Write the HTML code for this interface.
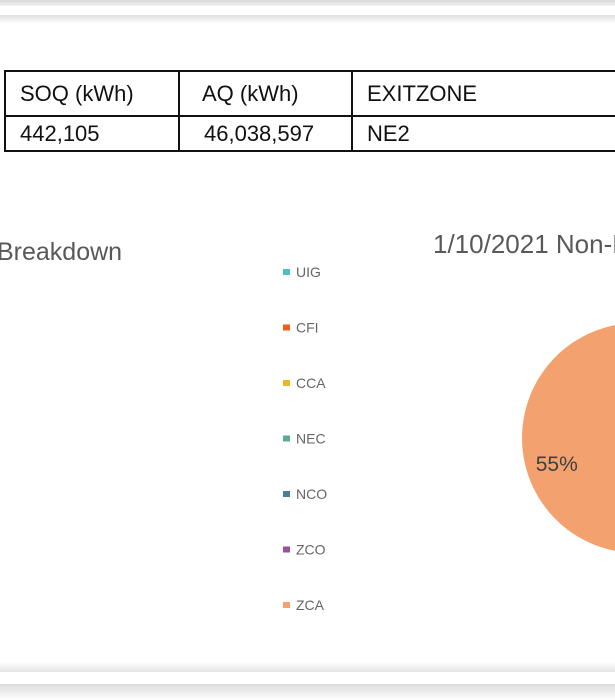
<!DOCTYPE html>
<html><head><meta charset="utf-8"><style>
body{margin:0;width:615px;height:700px;overflow:hidden;background:#fff;position:relative;font-family:"Liberation Sans",sans-serif}
.abs{position:absolute}
table{border-collapse:collapse;position:absolute;left:4px;top:70px;table-layout:fixed;width:640px}
td{border:2px solid #111;font-size:22px;color:#111;padding:0 0 0 14px;vertical-align:middle;overflow:hidden;white-space:nowrap;box-sizing:border-box}
#wrap{position:absolute;left:0;top:0;width:615px;height:700px;overflow:hidden}
</style></head><body>
<div id="wrap">
<div class="abs" style="left:0;top:0;width:615px;height:6px;background:linear-gradient(#d8d8d8,#f2f2f2)"></div>
<div class="abs" style="left:0;top:15px;width:615px;height:9px;background:linear-gradient(#e0e0e0,#fff)"></div>
<table>
<colgroup><col style="width:174px"><col style="width:173px"><col style="width:293px"></colgroup>
<tr><td style="height:45px">SOQ (kWh)</td><td style="padding-left:22px;height:45px">AQ (kWh)</td><td style="height:45px">EXITZONE</td></tr>
<tr><td style="height:35px">442,105</td><td style="padding-left:24px;height:35px">46,038,597</td><td style="height:35px">NE2</td></tr>
</table>
<div class="abs" style="left:-3px;top:238px;font-size:25px;color:#595959">Breakdown</div>
<div class="abs" style="left:433px;top:229px;width:182px;overflow:hidden;font-size:26px;color:#595959;white-space:nowrap">1/10/2021 Non-Daily</div>
<svg class="abs" style="left:0;top:0" width="615" height="700" id="chart"></svg>
<div class="abs" style="left:0;top:662px;width:615px;height:10px;background:linear-gradient(#fff,#e4e4e4)"></div>
<div class="abs" style="left:0;top:684px;width:615px;height:16px;background:linear-gradient(#dcdcdc,#fff)"></div>
</div>
<script>
const categories=["UIG","CFI","CCA","NEC","NCO","ZCO","ZCA"];
const values=[1,2,10,20,8,4,55];
const colors=["#4bbfcb","#e8601c","#e9b823","#5cab8c","#4a7f9e","#9b4fa0","#f3a26f"];
const svg=document.getElementById('chart');
const NS="http://www.w3.org/2000/svg";
categories.forEach((c,i)=>{
  const y=272+i*55.5;
  const r=document.createElementNS(NS,'rect');
  
  
  r.setAttribute('x',283);r.setAttribute('y',y-3);r.setAttribute('width',7);r.setAttribute('height',6);r.setAttribute('fill',colors[i]);
  svg.appendChild(r);
  const t=document.createElementNS(NS,'text');
  
  
  t.setAttribute('x',296);t.setAttribute('y',y+5);t.setAttribute('font-size','14');t.setAttribute('fill','#666');
  t.textContent=c;svg.appendChild(t);
});
const cx=637,cy=438,R=115;
const total=values.reduce((a,b)=>a+b,0);
const zi=categories.indexOf("ZCA");
let before=values.slice(0,zi).reduce((a,b)=>a+b,0);
let start=Math.PI-(before+values[zi]/2)/total*2*Math.PI;
let a=start;
values.forEach((v,i)=>{
  const span=v/total*2*Math.PI;
  const a2=a+span;
  const x1=cx+R*Math.cos(a),y1=cy-R*Math.sin(a),x2=cx+R*Math.cos(a2),y2=cy-R*Math.sin(a2);
  const p=document.createElementNS(NS,'path');
  
  
  p.setAttribute('d',`M${cx},${cy}L${x1},${y1}A${R},${R} 0 ${span>Math.PI?1:0} 0 ${x2},${y2}Z`);
  p.setAttribute('fill',colors[i]);
  svg.appendChild(p);
  if(v/total>=0.05){
    const m=(a+a2)/2,lr=R*0.75;
    const t=document.createElementNS(NS,'text');
    
    
    t.setAttribute('x',cx+lr*Math.cos(m)+6);t.setAttribute('y',cy-lr*Math.sin(m)+33);
    t.setAttribute('text-anchor','middle');t.setAttribute('font-size','21');t.setAttribute('fill','#404040');
    t.textContent=Math.round(v/total*100)+'%';svg.appendChild(t);
  }
  a=a2;
});
</script>
</body></html>
